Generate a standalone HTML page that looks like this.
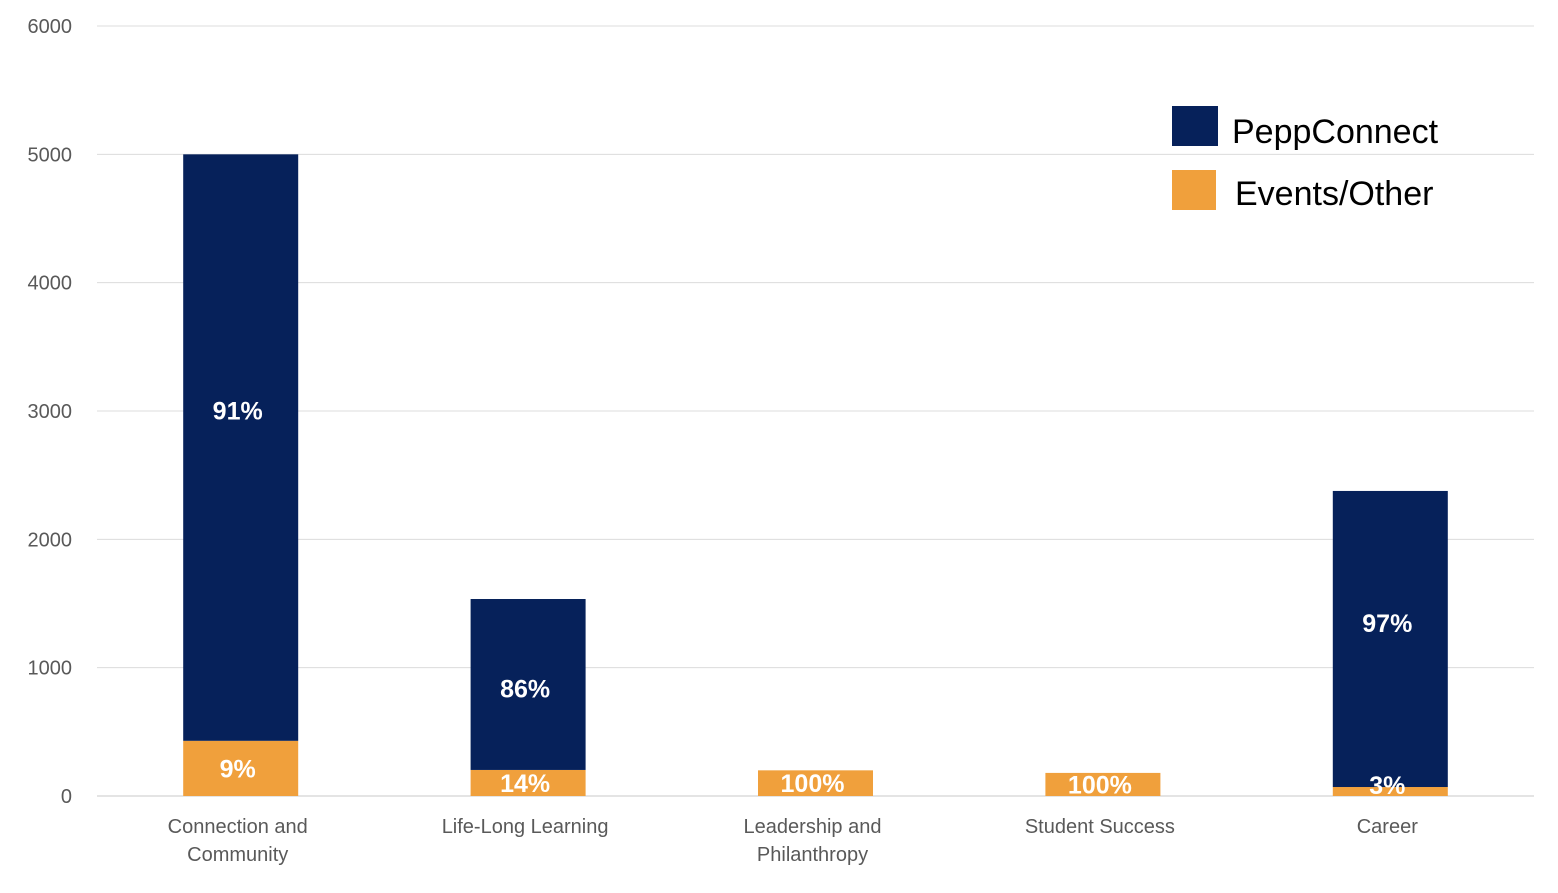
<!DOCTYPE html>
<html><head><meta charset="utf-8"><style>
body{margin:0;background:#fff}
svg text{font-family:"Liberation Sans",sans-serif}
</style></head><body>
<svg id="chart" width="1558" height="888" xmlns="http://www.w3.org/2000/svg">
<g id="grid"></g>
<g id="yticks"></g>
<g id="bars"></g>
<g id="xlabels"></g>
<g>
<rect x="1172" y="106" width="46" height="40" fill="#06215a"/>
<text x="1232" y="143" font-size="34" fill="#000">PeppConnect</text>
<rect x="1172" y="170" width="44" height="40" fill="#f0a03c"/>
<text x="1235" y="205" font-size="34" fill="#000">Events/Other</text>
</g>
</svg>
<script>
const categories=[["Connection and","Community"],["Life-Long Learning"],["Leadership and","Philanthropy"],["Student Success"],["Career"]];
const events=[430,203,200,180,70];
const pepp=[4570,1332,0,0,2307];
const peppLabels=["91%","86%","","","97%"];
const eventLabels=["9%","14%","100%","100%","3%"];
const yTicks=[0,1000,2000,3000,4000,5000,6000];
const NS="http://www.w3.org/2000/svg";
const x0=97,x1=1534,yB=796,yT=26,yMax=6000;
const labelDy=[-37,4,0,0,-16];
const y=v=>yB-(v/yMax)*(yB-yT);
const band=(x1-x0)/categories.length;
const xc=i=>x0+band*(i+0.5);
const bw=115;
function mk(tag,attrs,parent,txt){const e=document.createElementNS(NS,tag);for(const k in attrs)e.setAttribute(k,attrs[k]);if(txt!==undefined)e.textContent=txt;document.getElementById(parent).appendChild(e);return e;}
yTicks.forEach(t=>{
 const l=mk('line',{x1:x0,x2:x1,y1:y(t),y2:y(t),stroke:t===0?'#c8c8c8':'#dcdcdc','stroke-width':1},'grid');
 
 
 const tx=mk('text',{x:72,y:y(t)+7,'text-anchor':'end','font-size':20,fill:'#595959'},'yticks',t);
 
 
});
categories.forEach((c,i)=>{
 const cx=xc(i);
 const e=mk('rect',{x:cx-bw/2,y:y(events[i]),width:bw,height:yB-y(events[i]),fill:'#f0a03c'},'bars');
 
 
 if(pepp[i]>0){
  const p=mk('rect',{x:cx-bw/2,y:y(events[i]+pepp[i]),width:bw,height:y(events[i])-y(events[i]+pepp[i]),fill:'#06215a'},'bars');
  
  
  const pl=mk('text',{x:cx-3,y:(y(events[i])+y(events[i]+pepp[i]))/2+9+labelDy[i],'text-anchor':'middle','font-size':25,'font-weight':'bold',fill:'#fff'},'bars',peppLabels[i]);
  
  
 }
 const ey=Math.min((y(events[i])+yB)/2+9,yB-2);
 const el=mk('text',{x:cx-3,y:ey,'text-anchor':'middle','font-size':25,'font-weight':'bold',fill:'#fff'},'bars',eventLabels[i]);
 
 
 c.forEach((line,j)=>{
  const t=mk('text',{x:cx-3,y:833+j*28,'text-anchor':'middle','font-size':20,fill:'#595959'},'xlabels',line);
  
  
 });
});
</script>
</body></html>
